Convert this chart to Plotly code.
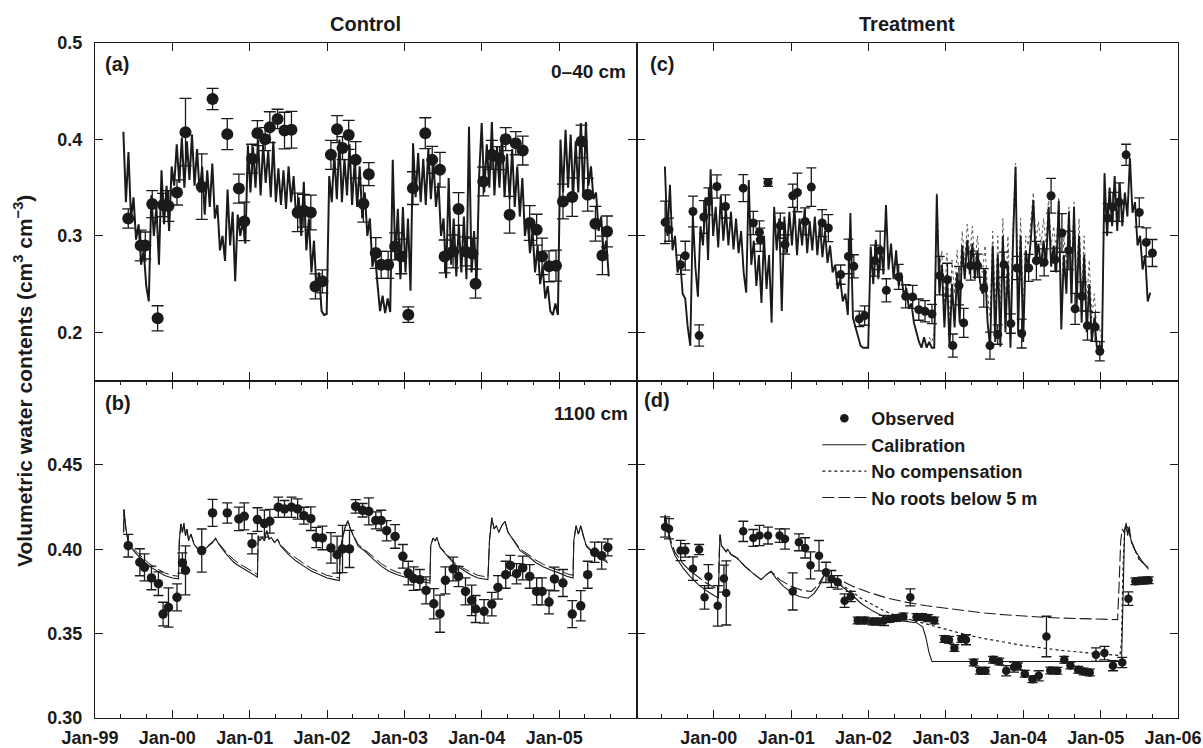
import pandas as pd
import plotly.graph_objects as go

# ---------------- data (decimal years / water contents) ----------------
# Panel (a) Control 0-40 cm, observed
a_obs_t = [1999.43, 1999.59, 1999.65, 1999.74, 1999.81, 1999.88, 1999.95, 2000.06, 2000.17, 2000.38,
           2000.52, 2000.71, 2000.86, 2000.93, 2001.03, 2001.10, 2001.20, 2001.26, 2001.36, 2001.45,
           2001.54, 2001.62, 2001.70, 2001.79, 2001.85, 2001.94, 2002.05, 2002.13, 2002.20, 2002.28,
           2002.37, 2002.47, 2002.54, 2002.63, 2002.70, 2002.79, 2002.88, 2002.96, 2003.05, 2003.11,
           2003.27, 2003.36, 2003.46, 2003.52, 2003.63, 2003.70, 2003.79, 2003.88, 2003.92, 2004.02,
           2004.13, 2004.23, 2004.31, 2004.36, 2004.44, 2004.53, 2004.62, 2004.71, 2004.78, 2004.87,
           2004.96, 2005.05, 2005.17, 2005.29, 2005.37, 2005.47, 2005.56, 2005.62]
a_obs_v = [0.318, 0.290, 0.290, 0.333, 0.2145, 0.332, 0.331, 0.345, 0.4075, 0.351,
           0.442, 0.4055, 0.349, 0.315, 0.380, 0.4065, 0.4003, 0.4127, 0.4213, 0.4092,
           0.410, 0.3243, 0.326, 0.3243, 0.2476, 0.2528, 0.384, 0.4106, 0.391, 0.4047,
           0.3788, 0.3333, 0.364, 0.2822, 0.270, 0.270, 0.289, 0.2787, 0.2183, 0.3495,
           0.4065, 0.3788, 0.3685, 0.2787, 0.2839, 0.3278, 0.2839, 0.2815, 0.2504, 0.3564,
           0.384, 0.3806, 0.4003, 0.3219, 0.3961, 0.3885, 0.3133, 0.3064, 0.2787, 0.2684,
           0.2691, 0.3357, 0.3402, 0.3978, 0.3426, 0.3126, 0.2797, 0.3046]
a_obs_e = [0.010, 0.016, 0.014, 0.014, 0.013, 0.012, 0.016, 0.013, 0.035, 0.034,
           0.011, 0.016, 0.015, 0.020, 0.015, 0.013, 0.012, 0.016, 0.010, 0.019,
           0.019, 0.020, 0.017, 0.018, 0.013, 0.012, 0.015, 0.014, 0.012, 0.015,
           0.019, 0.019, 0.012, 0.016, 0.014, 0.014, 0.014, 0.018, 0.008, 0.017,
           0.016, 0.014, 0.018, 0.017, 0.017, 0.017, 0.015, 0.016, 0.015, 0.015,
           0.015, 0.012, 0.012, 0.019, 0.012, 0.015, 0.018, 0.016, 0.019, 0.016,
           0.016, 0.018, 0.020, 0.017, 0.017, 0.018, 0.020, 0.016]

# Simulated daily-ish series, sampled every 12 days from 1999-05-15
sim_start = "1999-05-15"
sim_step = "12D"
a_sim = [0.408, 0.335, 0.387, 0.318, 0.340, 0.296, 0.312, 0.270, 0.285, 0.248,
         0.232, 0.342, 0.300, 0.330, 0.270, 0.368, 0.312, 0.352, 0.305, 0.372,
         0.352, 0.395, 0.355, 0.402, 0.350, 0.398, 0.358, 0.405, 0.352, 0.390,
         0.345, 0.372, 0.322, 0.368, 0.330, 0.375, 0.318, 0.332, 0.285, 0.300,
         0.274, 0.348, 0.290, 0.325, 0.253, 0.322, 0.300, 0.315, 0.292, 0.394,
         0.345, 0.392, 0.350, 0.400, 0.342, 0.395, 0.355, 0.388, 0.340, 0.398,
         0.335, 0.370, 0.332, 0.368, 0.328, 0.372, 0.335, 0.362, 0.318, 0.340,
         0.300, 0.356, 0.285, 0.318, 0.262, 0.295, 0.245, 0.262, 0.222, 0.218,
         0.219, 0.362, 0.335, 0.385, 0.338, 0.400, 0.335, 0.380, 0.342, 0.395,
         0.332, 0.378, 0.330, 0.372, 0.318, 0.345, 0.300, 0.318, 0.268, 0.282,
         0.250, 0.222, 0.238, 0.220, 0.235, 0.221, 0.379, 0.275, 0.328, 0.255,
         0.330, 0.262, 0.318, 0.243, 0.396, 0.340, 0.386, 0.335, 0.380, 0.332,
         0.390, 0.338, 0.378, 0.330, 0.355, 0.300, 0.318, 0.256, 0.360, 0.270,
         0.318, 0.258, 0.312, 0.262, 0.320, 0.255, 0.413, 0.262, 0.305, 0.250,
         0.362, 0.417, 0.345, 0.395, 0.350, 0.418, 0.342, 0.392, 0.350, 0.405,
         0.340, 0.385, 0.338, 0.390, 0.330, 0.372, 0.320, 0.360, 0.300, 0.318,
         0.282, 0.305, 0.262, 0.290, 0.250, 0.268, 0.235, 0.248, 0.222, 0.218,
         0.230, 0.218, 0.400, 0.345, 0.410, 0.350, 0.405, 0.342, 0.398, 0.345,
         0.417, 0.340, 0.418, 0.352, 0.372, 0.338, 0.345, 0.305, 0.320, 0.282,
         0.295, 0.258]

# Panel (c) Treatment 0-40 cm
c_obs_t = [1999.37, 1999.42, 1999.57, 1999.63, 1999.73, 1999.81, 1999.87, 1999.93, 2000.04, 2000.15,
           2000.38, 2000.51, 2000.59, 2000.60, 2000.70, 2000.86, 2000.92, 2001.02, 2001.08, 2001.18,
           2001.26, 2001.40, 2001.48, 2001.64, 2001.74, 2001.81, 2001.88, 2001.95, 2002.08, 2002.15,
           2002.23, 2002.39, 2002.48, 2002.57, 2002.65, 2002.73, 2002.82, 2002.92, 2003.02, 2003.09,
           2003.17, 2003.23, 2003.32, 2003.41, 2003.49, 2003.57, 2003.67, 2003.75, 2003.84, 2003.92,
           2003.98, 2004.07, 2004.17, 2004.27, 2004.36, 2004.41, 2004.50, 2004.59, 2004.67, 2004.76,
           2004.83, 2004.93, 2004.99, 2005.09, 2005.16, 2005.24, 2005.33, 2005.50, 2005.59, 2005.67]
c_obs_v = [0.314, 0.3064, 0.270, 0.2794, 0.3253, 0.1966, 0.3195, 0.3357, 0.3512, 0.3305,
           0.3495, 0.3133, 0.3036, 0.296, 0.3553, 0.3105, 0.291, 0.3416, 0.345, 0.315,
           0.3506, 0.3133, 0.3081, 0.2598, 0.2787, 0.2684, 0.2139, 0.2173, 0.2743, 0.2849,
           0.2435, 0.2574, 0.2373, 0.2367, 0.2235, 0.2218, 0.219, 0.2587, 0.2546, 0.1862,
           0.2484, 0.2097, 0.2691, 0.2691, 0.246, 0.1862, 0.1976, 0.2701, 0.209, 0.2667,
           0.1987, 0.2667, 0.2743, 0.2725, 0.3416, 0.2753, 0.303, 0.2849, 0.2243, 0.2373,
           0.2069, 0.2056, 0.1803, 0.3185, 0.330, 0.335, 0.384, 0.3243, 0.2932, 0.2822]
c_obs_e = [0.022, 0.012, 0.010, 0.015, 0.016, 0.011, 0.017, 0.014, 0.012, 0.012,
           0.014, 0.012, 0.012, 0.012, 0.004, 0.013, 0.010, 0.012, 0.020, 0.014,
           0.020, 0.014, 0.014, 0.010, 0.018, 0.012, 0.008, 0.010, 0.016, 0.020,
           0.012, 0.013, 0.012, 0.012, 0.011, 0.011, 0.010, 0.020, 0.017, 0.012,
           0.020, 0.015, 0.015, 0.012, 0.020, 0.014, 0.010, 0.013, 0.010, 0.012,
           0.015, 0.014, 0.020, 0.014, 0.018, 0.012, 0.020, 0.020, 0.016, 0.015,
           0.015, 0.015, 0.010, 0.015, 0.015, 0.020, 0.011, 0.015, 0.015, 0.014]
c_sim = [0.372, 0.300, 0.353, 0.285, 0.300, 0.262, 0.275, 0.240, 0.235, 0.205,
         0.186, 0.322, 0.268, 0.237, 0.310, 0.290, 0.340, 0.275, 0.369, 0.300,
         0.330, 0.288, 0.342, 0.295, 0.328, 0.290, 0.325, 0.286, 0.318, 0.282,
         0.305, 0.262, 0.241, 0.358, 0.270, 0.295, 0.248, 0.280, 0.2305, 0.300,
         0.245, 0.280, 0.210, 0.330, 0.285, 0.318, 0.222, 0.320, 0.282, 0.325,
         0.290, 0.330, 0.280, 0.318, 0.290, 0.328, 0.282, 0.315, 0.285, 0.320,
         0.280, 0.312, 0.278, 0.305, 0.272, 0.290, 0.262, 0.270, 0.245, 0.255,
         0.232, 0.240, 0.218, 0.3237, 0.215, 0.205, 0.195, 0.186, 0.184, 0.184,
         0.184, 0.289, 0.250, 0.296, 0.255, 0.290, 0.260, 0.332, 0.265, 0.292,
         0.255, 0.285, 0.248, 0.262, 0.238, 0.246, 0.225, 0.230, 0.210, 0.200,
         0.190, 0.184, 0.195, 0.184, 0.190, 0.184, 0.184, 0.3426, 0.240, 0.270,
         0.205, 0.260, 0.184, 0.250, 0.205, 0.262, 0.210, 0.290, 0.255, 0.296,
         0.260, 0.292, 0.255, 0.285, 0.252, 0.240, 0.265, 0.210, 0.184, 0.290,
         0.190, 0.280, 0.185, 0.300, 0.200, 0.270, 0.184, 0.295, 0.372, 0.200,
         0.300, 0.190, 0.285, 0.266, 0.296, 0.337, 0.270, 0.292, 0.268, 0.295,
         0.270, 0.330, 0.268, 0.290, 0.262, 0.336, 0.203, 0.280, 0.240, 0.325,
         0.230, 0.330, 0.225, 0.300, 0.210, 0.280, 0.200, 0.250, 0.190, 0.215,
         0.184, 0.186, 0.184, 0.365, 0.300, 0.350, 0.310, 0.362, 0.305, 0.355,
         0.310, 0.345, 0.320, 0.381, 0.324, 0.335, 0.290, 0.300, 0.265, 0.280,
         0.232, 0.241]
# "No compensation" run where it departs from calibration (from sample 104 on)
c_nocomp_first = 104
c_nocomp = [0.195, 0.190, 0.200, 0.345, 0.262, 0.285,
            0.230, 0.282, 0.210, 0.275, 0.240, 0.285, 0.250, 0.305, 0.275, 0.312,
            0.280, 0.310, 0.272, 0.300, 0.268, 0.262, 0.290, 0.240, 0.215, 0.305,
            0.225, 0.300, 0.215, 0.318, 0.230, 0.300, 0.215, 0.310, 0.375, 0.235,
            0.318, 0.225, 0.300, 0.290, 0.315, 0.345, 0.295, 0.315, 0.290, 0.318,
            0.292, 0.340, 0.290, 0.310, 0.285, 0.340, 0.235, 0.300, 0.270, 0.330,
            0.255, 0.335, 0.250, 0.318, 0.240, 0.300, 0.230, 0.275, 0.215, 0.240,
            0.200, 0.205, 0.190, 0.365]

# Panel (b) Control 1100 cm
b_obs_t = [1999.43, 1999.58, 1999.64, 1999.73, 1999.82, 1999.88, 1999.95, 2000.06, 2000.13, 2000.17,
           2000.38, 2000.52, 2000.71, 2000.86, 2000.93, 2001.03, 2001.10, 2001.19, 2001.26, 2001.37,
           2001.45, 2001.54, 2001.62, 2001.70, 2001.79, 2001.86, 2001.94, 2002.05, 2002.13, 2002.20,
           2002.29, 2002.37, 2002.46, 2002.54, 2002.63, 2002.70, 2002.77, 2002.88, 2002.98, 2003.05,
           2003.12, 2003.20, 2003.28, 2003.38, 2003.46, 2003.53, 2003.63, 2003.70, 2003.79, 2003.87,
           2003.92, 2004.03, 2004.13, 2004.21, 2004.31, 2004.37, 2004.45, 2004.53, 2004.62, 2004.71,
           2004.78, 2004.87, 2004.94, 2005.05, 2005.17, 2005.28, 2005.37, 2005.46, 2005.55, 2005.63]
b_obs_v = [0.4021, 0.3923, 0.3893, 0.383, 0.3796, 0.3616, 0.3655, 0.3715, 0.3919, 0.3875,
           0.3992, 0.4215, 0.4215, 0.418, 0.4195, 0.4033, 0.4176, 0.4152, 0.4166, 0.4249,
           0.4239, 0.4249, 0.4239, 0.4199, 0.4181, 0.407, 0.4067, 0.4008, 0.3968, 0.4002,
           0.4002, 0.4254, 0.4231, 0.4225, 0.4171, 0.4171, 0.411, 0.4076, 0.3958, 0.3859,
           0.3826, 0.382, 0.3756, 0.3677, 0.3618, 0.3816, 0.3883, 0.3839, 0.375, 0.3697,
           0.3646, 0.3632, 0.3675, 0.3774, 0.3849, 0.3904, 0.3855, 0.3889, 0.3839, 0.375,
           0.375, 0.3687, 0.3824, 0.380, 0.3616, 0.3665, 0.3849, 0.3982, 0.3962, 0.4011]
b_obs_e = [0.0067, 0.008, 0.008, 0.007, 0.007, 0.007, 0.0116, 0.008, 0.006, 0.0145,
           0.0128, 0.008, 0.006, 0.007, 0.008, 0.006, 0.007, 0.008, 0.007, 0.006,
           0.005, 0.006, 0.006, 0.005, 0.007, 0.006, 0.007, 0.009, 0.011, 0.014,
           0.011, 0.004, 0.004, 0.008, 0.005, 0.006, 0.006, 0.007, 0.007, 0.007,
           0.007, 0.006, 0.008, 0.009, 0.011, 0.008, 0.007, 0.006, 0.008, 0.009,
           0.008, 0.007, 0.007, 0.007, 0.008, 0.006, 0.006, 0.007, 0.007, 0.008,
           0.008, 0.007, 0.007, 0.008, 0.008, 0.009, 0.008, 0.006, 0.008, 0.005]
b_sim_t = [1999.37, 1999.375, 1999.40, 1999.43, 1999.50, 1999.60, 1999.70, 1999.80, 1999.90, 2000.00, 2000.08,
           2000.09, 2000.11, 2000.13, 2000.15, 2000.17, 2000.19, 2000.21, 2000.24, 2000.28, 2000.33,
           2000.38, 2000.45, 2000.52, 2000.56, 2000.60, 2000.70, 2000.80, 2000.90, 2001.00, 2001.10,
           2001.11, 2001.13, 2001.16, 2001.19, 2001.22, 2001.25, 2001.28, 2001.32, 2001.36, 2001.40,
           2001.50, 2001.60, 2001.70, 2001.80, 2001.90, 2002.00, 2002.10, 2002.16,
           2002.17, 2002.20, 2002.23, 2002.27, 2002.30, 2002.40, 2002.50, 2002.60, 2002.70, 2002.80,
           2002.90, 2003.00, 2003.10, 2003.20, 2003.33,
           2003.34, 2003.37, 2003.40, 2003.42, 2003.46, 2003.55, 2003.65, 2003.75, 2003.85, 2003.95, 2004.08,
           2004.10, 2004.13, 2004.16, 2004.19, 2004.22, 2004.26, 2004.30, 2004.34, 2004.40, 2004.50,
           2004.60, 2004.70, 2004.80, 2004.90, 2005.00, 2005.10, 2005.18,
           2005.19, 2005.22, 2005.25, 2005.28, 2005.31, 2005.35, 2005.45, 2005.55, 2005.63]
b_cal = [0.410, 0.4235, 0.412, 0.404, 0.399, 0.394, 0.390, 0.387, 0.3845, 0.383, 0.3825,
         0.405, 0.415, 0.410, 0.4155, 0.408, 0.412, 0.405, 0.409, 0.403, 0.400,
         0.3985, 0.401, 0.404, 0.4065, 0.403, 0.397, 0.392, 0.389, 0.386, 0.3835,
         0.408, 0.405, 0.407, 0.405, 0.411, 0.406, 0.407, 0.404, 0.406, 0.402,
         0.397, 0.393, 0.390, 0.387, 0.385, 0.383, 0.382, 0.3815,
         0.400, 0.407, 0.4125, 0.417, 0.412, 0.402, 0.3985, 0.394, 0.390, 0.387,
         0.385, 0.3835, 0.3825, 0.381, 0.380,
         0.402, 0.4065, 0.405, 0.407, 0.401, 0.396, 0.391, 0.388, 0.385, 0.383, 0.382,
         0.405, 0.4186, 0.412, 0.414, 0.410, 0.414, 0.4166, 0.410, 0.406, 0.399,
         0.396, 0.392, 0.3895, 0.3875, 0.386, 0.384, 0.383,
         0.405, 0.414, 0.409, 0.414, 0.408, 0.402, 0.397, 0.394, 0.392]
b_noroots = [0.410, 0.4235, 0.412, 0.4045, 0.400, 0.3955, 0.3915, 0.3885, 0.386, 0.3845, 0.384,
             0.405, 0.415, 0.410, 0.4155, 0.408, 0.412, 0.405, 0.409, 0.403, 0.4005,
             0.399, 0.4015, 0.4045, 0.4065, 0.4035, 0.398, 0.3935, 0.3905, 0.3875, 0.385,
             0.408, 0.405, 0.407, 0.405, 0.411, 0.406, 0.407, 0.404, 0.406, 0.4025,
             0.398, 0.3945, 0.3915, 0.3885, 0.3865, 0.3845, 0.3835, 0.383,
             0.400, 0.407, 0.4125, 0.417, 0.4125, 0.403, 0.3995, 0.3955, 0.3915, 0.3885,
             0.3865, 0.385, 0.384, 0.3825, 0.3815,
             0.402, 0.4065, 0.405, 0.407, 0.4015, 0.397, 0.392, 0.389, 0.3865, 0.3845, 0.3835,
             0.405, 0.4186, 0.412, 0.414, 0.410, 0.414, 0.4166, 0.410, 0.4065, 0.400,
             0.397, 0.3935, 0.391, 0.389, 0.3875, 0.3855, 0.3845,
             0.405, 0.414, 0.409, 0.414, 0.408, 0.4025, 0.398, 0.395, 0.393]

# Panel (d) Treatment 1100 cm
d_obs_t = [1999.37, 1999.42, 1999.57, 1999.63, 1999.73, 1999.81, 1999.88, 1999.93, 2000.05, 2000.13,
           2000.16, 2000.38, 2000.51, 2000.59, 2000.70, 2000.85, 2000.92, 2001.02, 2001.10, 2001.18,
           2001.25, 2001.36, 2001.45, 2001.52, 2001.60, 2001.69, 2001.77, 2001.86, 2001.95, 2002.05,
           2002.12, 2002.20, 2002.27, 2002.36, 2002.45, 2002.54, 2002.62, 2002.69, 2002.77, 2002.85,
           2002.98, 2003.04, 2003.11, 2003.20, 2003.26, 2003.36, 2003.44, 2003.51, 2003.61, 2003.69,
           2003.78, 2003.88, 2003.93, 2004.02, 2004.12, 2004.20, 2004.30, 2004.35, 2004.44, 2004.53,
           2004.61, 2004.71, 2004.78, 2004.86, 2004.94, 2005.05, 2005.16, 2005.28, 2005.36, 2005.45,
           2005.54, 2005.62]
d_obs_v = [0.4132, 0.4122, 0.3993, 0.3993, 0.3885, 0.3998, 0.3715, 0.3839, 0.3665, 0.3826,
           0.3741, 0.4106, 0.4067, 0.4081, 0.4081, 0.4081, 0.4061, 0.375, 0.4041, 0.4008,
           0.3905, 0.3962, 0.3863, 0.3824, 0.3804, 0.3695, 0.372, 0.3578, 0.3578, 0.3572,
           0.3572, 0.3578, 0.3587, 0.3593, 0.3602, 0.3715, 0.3598, 0.3598, 0.3592, 0.3578,
           0.3468, 0.3464, 0.3415, 0.3468, 0.3464, 0.3329, 0.328, 0.328, 0.3345, 0.3335,
           0.328, 0.3302, 0.3306, 0.3262, 0.323, 0.325, 0.3483, 0.3282, 0.328, 0.3345,
           0.3311, 0.3286, 0.3276, 0.327, 0.3375, 0.3385, 0.331, 0.3329, 0.3707, 0.381,
           0.3814, 0.3816]
d_obs_e = [0.006, 0.006, 0.006, 0.004, 0.007, 0.003, 0.007, 0.007, 0.012, 0.008,
           0.019, 0.006, 0.005, 0.006, 0.005, 0.004, 0.006, 0.011, 0.005, 0.006,
           0.008, 0.009, 0.006, 0.005, 0.004, 0.004, 0.003, 0.002, 0.002, 0.002,
           0.002, 0.003, 0.002, 0.002, 0.002, 0.005, 0.002, 0.002, 0.002, 0.002,
           0.002, 0.002, 0.002, 0.002, 0.003, 0.002, 0.002, 0.002, 0.002, 0.002,
           0.003, 0.003, 0.002, 0.002, 0.002, 0.003, 0.012, 0.002, 0.002, 0.002,
           0.002, 0.002, 0.002, 0.002, 0.004, 0.004, 0.003, 0.003, 0.004, 0.002,
           0.002, 0.002]
d_cal_t = [1999.36, 1999.37, 1999.40, 1999.45, 1999.50, 1999.60, 1999.70, 1999.80, 1999.90, 2000.00, 2000.06,
           2000.07, 2000.08, 2000.10, 2000.13, 2000.16, 2000.18, 2000.22, 2000.30, 2000.40, 2000.50,
           2000.61, 2000.68, 2000.74, 2000.80, 2000.90, 2001.00, 2001.10, 2001.22, 2001.30, 2001.36,
           2001.43, 2001.50, 2001.60, 2001.75, 2001.90, 2002.05, 2002.20, 2002.35, 2002.50, 2002.62,
           2002.70, 2002.74, 2002.78, 2002.82, 2003.50, 2004.50, 2005.27, 2005.29, 2005.31, 2005.33,
           2005.35, 2005.37, 2005.39, 2005.45, 2005.55, 2005.62]
d_cal = [0.412, 0.4205, 0.412, 0.402, 0.396, 0.389, 0.3835, 0.379, 0.3755, 0.373, 0.371,
         0.395, 0.4087, 0.402, 0.400, 0.3985, 0.400, 0.397, 0.3948, 0.390, 0.386,
         0.382, 0.385, 0.3869, 0.383, 0.378, 0.3745, 0.372, 0.371, 0.374, 0.378,
         0.385, 0.383, 0.380, 0.3745, 0.368, 0.3635, 0.360, 0.358, 0.357, 0.3565,
         0.354, 0.348, 0.339, 0.3335, 0.3335, 0.3335, 0.3335, 0.370, 0.410, 0.4156,
         0.408, 0.4135, 0.406, 0.399, 0.392, 0.388]
d_nocomp_t = [2001.43, 2001.50, 2001.60, 2001.75, 2001.90, 2002.05, 2002.20, 2002.40, 2002.60, 2002.80,
              2003.00, 2003.25, 2003.50, 2003.75, 2004.00, 2004.25, 2004.50, 2004.75, 2005.00, 2005.25,
              2005.27, 2005.29, 2005.31, 2005.33, 2005.35, 2005.37, 2005.40, 2005.50, 2005.62]
d_nocomp = [0.385, 0.383, 0.380, 0.376, 0.371, 0.367, 0.3635, 0.360, 0.3575, 0.355,
            0.3525, 0.3495, 0.347, 0.345, 0.343, 0.3415, 0.340, 0.339, 0.338, 0.337,
            0.345, 0.390, 0.410, 0.414, 0.409, 0.4125, 0.404, 0.394, 0.389]
d_noroots_t = [1999.36, 1999.37, 1999.40, 1999.45, 1999.50, 1999.60, 1999.70, 1999.80, 1999.90, 2000.00,
               2000.06, 2000.07, 2000.08, 2000.10, 2000.13, 2000.16, 2000.18, 2000.22, 2000.30, 2000.40,
               2000.50, 2000.61, 2000.68, 2000.74, 2000.85, 2001.00, 2001.15, 2001.26, 2001.35, 2001.43,
               2001.50, 2001.60, 2001.80, 2002.00, 2002.25, 2002.50, 2002.75, 2003.00, 2003.25, 2003.50,
               2003.75, 2004.00, 2004.25, 2004.50, 2004.75, 2005.00, 2005.22, 2005.24, 2005.26, 2005.28,
               2005.30, 2005.33, 2005.36, 2005.40, 2005.50, 2005.62]
d_noroots = [0.412, 0.4205, 0.413, 0.404, 0.398, 0.3915, 0.387, 0.3835, 0.380, 0.3775,
             0.376, 0.398, 0.4087, 0.402, 0.400, 0.3985, 0.400, 0.397, 0.3948, 0.390,
             0.386, 0.382, 0.385, 0.3869, 0.382, 0.378, 0.3755, 0.375, 0.379, 0.385,
             0.3835, 0.3825, 0.378, 0.3745, 0.371, 0.3685, 0.3665, 0.365, 0.3635, 0.3622,
             0.3612, 0.3603, 0.3597, 0.3592, 0.3588, 0.3585, 0.3583, 0.380, 0.405, 0.412,
             0.410, 0.415, 0.412, 0.404, 0.394, 0.389]

top_ticks = [0.2, 0.3, 0.4, 0.5]
top_labels = ["0.2", "0.3", "0.4", "0.5"]
bot_ticks = [0.30, 0.35, 0.40, 0.45, 0.50]
bot_labels = ["0.30", "0.35", "0.40", "0.45", ""]
years = [1999, 2000, 2001, 2002, 2003, 2004, 2005, 2006]
year_labels = ["Jan-99", "Jan-00", "Jan-01", "Jan-02", "Jan-03", "Jan-04", "Jan-05", "Jan-06"]


# ---------------- helpers ----------------
def to_dates(ts):
    base = pd.Timestamp("1999-01-01")
    return [base + pd.Timedelta(days=(t - 1999.0) * 365.25) for t in ts]


sim_dates = pd.date_range(sim_start, periods=len(c_sim), freq=sim_step)
a_dates = pd.date_range(sim_start, periods=len(a_sim), freq=sim_step)
c_nc_dates = sim_dates[c_nocomp_first:c_nocomp_first + len(c_nocomp)]

INK = "#1a1a1a"
FONT = "Liberation Sans, Arial, Helvetica, sans-serif"


def obs_trace(t, v, e, xa, ya, size, cap, show=False):
    return go.Scatter(
        x=to_dates(t), y=v, mode="markers", xaxis=xa, yaxis=ya,
        marker=dict(color=INK, size=size, line=dict(width=0)),
        error_y=dict(type="data", array=e, visible=True, color=INK, thickness=1.3, width=cap),
        name="Observed", showlegend=show, legendrank=1,
    )


fig = go.Figure()

# (a)
fig.add_trace(go.Scatter(x=a_dates, y=a_sim, mode="lines", xaxis="x", yaxis="y",
                         line=dict(color=INK, width=2.0), showlegend=False))
fig.add_trace(obs_trace(a_obs_t, a_obs_v, a_obs_e, "x", "y", 12, 6))

# (c)
fig.add_trace(go.Scatter(x=c_nc_dates, y=c_nocomp, mode="lines", xaxis="x2", yaxis="y2",
                         line=dict(color="#555555", width=1, dash="dot"), showlegend=False))
fig.add_trace(go.Scatter(x=sim_dates, y=c_sim, mode="lines", xaxis="x2", yaxis="y2",
                         line=dict(color=INK, width=1.9), showlegend=False))
fig.add_trace(obs_trace(c_obs_t, c_obs_v, c_obs_e, "x2", "y2", 9, 5))

# (b)
fig.add_trace(go.Scatter(x=to_dates(b_sim_t), y=b_noroots, mode="lines", xaxis="x3", yaxis="y3",
                         line=dict(color=INK, width=1, dash="12px,4px"), showlegend=False))
fig.add_trace(go.Scatter(x=to_dates(b_sim_t), y=b_cal, mode="lines", xaxis="x3", yaxis="y3",
                         line=dict(color=INK, width=1.1), showlegend=False))
fig.add_trace(obs_trace(b_obs_t, b_obs_v, b_obs_e, "x3", "y3", 9.5, 5))

# (d)
fig.add_trace(go.Scatter(x=to_dates(d_cal_t), y=d_cal, mode="lines", xaxis="x4", yaxis="y4",
                         line=dict(color=INK, width=1.1), name="Calibration",
                         showlegend=True, legendrank=2))
fig.add_trace(go.Scatter(x=to_dates(d_nocomp_t), y=d_nocomp, mode="lines", xaxis="x4", yaxis="y4",
                         line=dict(color=INK, width=1.2, dash="dot"), name="No compensation",
                         showlegend=True, legendrank=3))
fig.add_trace(go.Scatter(x=to_dates(d_noroots_t), y=d_noroots, mode="lines", xaxis="x4", yaxis="y4",
                         line=dict(color=INK, width=1.1, dash="12px,4px"), name="No roots below 5 m",
                         showlegend=True, legendrank=4))
fig.add_trace(obs_trace(d_obs_t, d_obs_v, d_obs_e, "x4", "y4", 8.5, 5, show=True))

# ---------------- axes ----------------
x_range = ["1999-01-01", "2006-01-01"]
tick_dates = [pd.Timestamp(f"{y}-01-01") for y in years]
minor_dates = [pd.Timestamp(f"{y}-{m:02d}-01") for y in years[:-1] for m in (5, 9)]
tickfont = dict(family=FONT, size=18, color=INK, weight="bold")


def xaxis(domain, anchor, labels):
    return dict(
        domain=domain, anchor=anchor, type="date", range=x_range, automargin=False,
        tickmode="array", tickvals=tick_dates, ticktext=labels,
        ticks="inside", ticklen=8, tickwidth=1.2, tickcolor=INK,
        showline=True, linecolor=INK, linewidth=1.3, mirror="ticks",
        showgrid=False, zeroline=False, tickfont=tickfont,
        ticklabelstandoff=3, ticklabelshift=-5, ticklabeloverflow="allow",
    )


def yaxis(domain, anchor, rng, vals, labels):
    return dict(
        domain=domain, anchor=anchor, range=rng, automargin=False,
        tickmode="array", tickvals=vals, ticktext=labels,
        ticks="inside", ticklen=8, tickwidth=1.2, tickcolor=INK,
        showline=True, linecolor=INK, linewidth=1.3, mirror="ticks",
        showgrid=False, zeroline=False, tickfont=tickfont, ticklabelstandoff=8,
    )


blank8 = [""] * len(years)
left_labels = year_labels[:-1] + [""]
right_labels = [""] + year_labels[1:]

bx_left = xaxis([0, 0.5], "y3", left_labels)
bx_left["minor"] = dict(tickmode="array", tickvals=minor_dates, ticks="inside", ticklen=4,
                        tickwidth=1, tickcolor=INK)
bx_right = xaxis([0.5, 1], "y4", right_labels)
bx_right["minor"] = dict(tickmode="array", tickvals=minor_dates, ticks="inside", ticklen=4,
                         tickwidth=1, tickcolor=INK)

fig.update_layout(
    xaxis=xaxis([0, 0.5], "y", blank8),
    xaxis2=xaxis([0.5, 1], "y2", blank8),
    xaxis3=bx_left,
    xaxis4=bx_right,
    yaxis=yaxis([0.5, 1], "x", [0.15, 0.5], top_ticks, top_labels),
    yaxis2=yaxis([0.5, 1], "x2", [0.15, 0.5], top_ticks, [""] * 4),
    yaxis3=yaxis([0, 0.5], "x3", [0.30, 0.50], bot_ticks, bot_labels),
    yaxis4=yaxis([0, 0.5], "x4", [0.30, 0.50], bot_ticks, [""] * 5),
)

# ---------------- text ----------------
def ann(text, x, y, size=18, xanchor="center", yanchor="middle", angle=0):
    fig.add_annotation(text=f"<b>{text}</b>", x=x, y=y, xref="paper", yref="paper",
                       xanchor=xanchor, yanchor=yanchor, showarrow=False, textangle=angle,
                       font=dict(family=FONT, size=size, color=INK))


ann("Control", 0.25, 1.028, size=20)
ann("Treatment", 0.75, 1.028, size=20)
ann("(a)", 0.007, 0.969, size=20, xanchor="left")
ann("(c)", 0.511, 0.969, size=20, xanchor="left")
ann("(b)", 0.007, 0.466, size=20, xanchor="left")
ann("(d)", 0.505, 0.471, size=20, xanchor="left")
ann("0\u201340 cm", 0.4925, 0.9585, size=19, xanchor="right")
ann("1100 cm", 0.494, 0.4504, size=19, xanchor="right")
ann("Volumetric water contents (cm<sup>3</sup> cm<sup>\u22123</sup>)", -0.067, 0.5, size=21, angle=-90)

fig.update_layout(
    width=1203, height=748,
    margin=dict(l=95, r=25, t=43, b=30, autoexpand=False),
    paper_bgcolor="white", plot_bgcolor="white",
    font=dict(family=FONT, color=INK),
    legend=dict(x=0.667, y=0.471, xanchor="left", yanchor="top", bgcolor="rgba(0,0,0,0)",
                font=dict(family=FONT, size=18, color=INK, weight="bold"),
                itemwidth=44, tracegroupgap=0, traceorder="normal"),
)

fig.write_html("out.html")
